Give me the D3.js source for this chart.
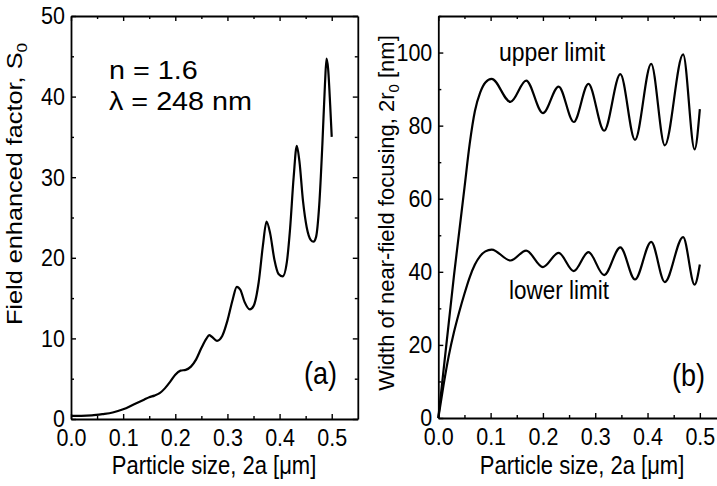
<!DOCTYPE html>
<html>
<head>
<meta charset="utf-8">
<script src="https://cdn.jsdelivr.net/npm/d3@7"></script>
<style>
  body { margin: 0; background: #fff; }
  text { font-family: "Liberation Sans", Arial, sans-serif; fill: #000; }
</style>
</head>
<body>
<div id="chart"></div>
<script>
const width = 717;
const height = 486;
const STRETCH = 1.15; // the original figure is a bit taller than wide, text included

// panel (a): field enhanced factor vs particle size
const sizeA = [0, 0.02, 0.04, 0.06, 0.08, 0.10, 0.12, 0.14, 0.15, 0.16, 0.17, 0.18, 0.19, 0.20,
  0.21, 0.22, 0.23, 0.24, 0.25, 0.26, 0.265, 0.27, 0.28, 0.29, 0.30, 0.31, 0.318, 0.325, 0.333,
  0.343, 0.35, 0.36, 0.368, 0.375, 0.382, 0.39, 0.398, 0.406, 0.414, 0.42, 0.427, 0.433, 0.438,
  0.445, 0.452, 0.46, 0.465, 0.47, 0.476, 0.482, 0.487, 0.49, 0.493, 0.497, 0.50];
const factorA = [0.4, 0.4, 0.45, 0.6, 0.8, 1.2, 1.8, 2.4, 2.7, 2.9, 3.2, 3.8, 4.6, 5.5,
  6.0, 6.1, 6.5, 7.4, 8.8, 10.0, 10.4, 10.2, 9.7, 10.3, 12.2, 14.8, 16.4, 16.0, 14.5,
  13.6, 14.0, 17.0, 21.5, 24.5, 23.0, 19.8, 18.0, 17.7, 19.5, 23.5, 30.0, 33.9, 32.0,
  27.0, 23.8, 22.2, 22.0, 22.6, 26.5, 34.0, 41.5, 44.7, 43.5, 39.0, 35.0];

// panel (b): width of near-field focusing, upper and lower limit
const sizeB = [0, 0.01, 0.02, 0.03, 0.04, 0.05, 0.06, 0.07, 0.08, 0.09, 0.102, 0.138, 0.168,
  0.200, 0.230, 0.259, 0.287, 0.317, 0.348, 0.376, 0.407, 0.433, 0.468, 0.490, 0.500];
const upperB = [0, 13, 26, 39, 51, 63, 75, 84, 89, 91.8, 92.8, 86.5, 92.3,
  83.4, 90.7, 81.0, 91.4, 78.6, 94.1, 76.1, 96.9, 74.6, 99.5, 73.5, 84.5];
const lowerB = [0, 9, 17, 23.5, 29, 34, 38.5, 42, 44.3, 45.6, 46.1, 43.1, 45.8,
  41.3, 45.2, 40.2, 45.4, 39.1, 46.7, 37.9, 48.2, 37.2, 49.5, 36.5, 42];

const xMajor = [0, 0.1, 0.2, 0.3, 0.4, 0.5];
const xMinor = [0.05, 0.15, 0.25, 0.35, 0.45];
const yMajorA = [0, 10, 20, 30, 40, 50];
const yMinorA = [5, 15, 25, 35, 45];
const yMajorB = [0, 20, 40, 60, 80, 100];
const yMinorB = [10, 30, 50, 70, 90, 110];

const svg = d3.select("#chart").append("svg")
    .attr("width", width)
    .attr("height", height);

// frame with inward ticks on all four sides, labels on left and bottom
function frame(g, x, y, yMajor, yMinor) {
  const sides = [
    [d3.axisBottom(x), "translate(0," + y.range()[0] + ")", xMajor, xMinor, true, true],
    [d3.axisTop(x), "translate(0," + y.range()[1] + ")", xMajor, xMinor, false, true],
    [d3.axisLeft(y), "translate(" + x.range()[0] + ",0)", yMajor, yMinor, true, false],
    [d3.axisRight(y), "translate(" + x.range()[1] + ",0)", yMajor, yMinor, false, false]
  ];
  sides.forEach(([axis, tr, major, minor, labels, horiz]) => {
    const fmt = labels ? (horiz ? d3.format(".1f") : d3.format("d")) : () => "";
    const a = g.append("g").attr("transform", tr)
      .call(axis.tickValues(major).tickFormat(fmt).tickSizeInner(-5).tickSizeOuter(0)
        .tickPadding(horiz ? 8 : 6));
    a.select(".domain").attr("stroke-width", 1.8);
    a.selectAll(".tick line").attr("stroke-width", 1.4);
    a.selectAll("text")
      .attr("font-size", 21.5)
      .attr("font-family", "Liberation Sans, Arial, sans-serif")
      .attr("transform", "scale(1," + STRETCH + ")");
    const m = g.append("g").attr("transform", tr)
      .call(axis.tickValues(minor).tickFormat("").tickSizeInner(-3).tickSizeOuter(0));
    m.select(".domain").remove();
    m.selectAll(".tick line").attr("stroke-width", 1.4);
  });
}

function label(g, txt, x, y, size, anchor, sx, sy) {
  return g.append("text")
    .attr("transform", "translate(" + x + "," + y + ") scale(" + (sx || 1) + "," + (sy || STRETCH) + ")")
    .attr("font-size", size)
    .attr("text-anchor", anchor || "start")
    .text(txt);
}

// parts: [text, shift] where shift 1 = drop to subscript, -1 = back to baseline
function yTitle(g, x, y, size, along, parts) {
  const t = g.append("text")
    .attr("transform", "translate(" + x + "," + y + ") rotate(-90) scale(" + along + ",1)")
    .attr("font-size", size)
    .attr("text-anchor", "middle");
  parts.forEach(([s, shift]) => {
    t.append("tspan")
      .attr("font-size", shift === 1 ? size * 0.68 : size)
      .attr("dy", shift * 5)
      .text(s);
  });
}

// ---- panel (a)
const xA = d3.scaleLinear().domain([0, 0.55]).range([71, 357.8]);
const yA = d3.scaleLinear().domain([0, 50]).range([419, 16]);
const gA = svg.append("g");

gA.append("path")
    .datum(sizeA.map((s, i) => [s, factorA[i]]))
    .attr("fill", "none")
    .attr("stroke", "#000")
    .attr("stroke-width", 2.2)
    .attr("d", d3.line().x(d => xA(d[0])).y(d => yA(d[1])).curve(d3.curveMonotoneX));

frame(gA, xA, yA, yMajorA, yMinorA);

label(gA, "n = 1.6", 109, 79, 25, "start", 1.15, 1);
label(gA, "\u03bb = 248 nm", 109, 110, 25, "start", 1.15, 1);
label(gA, "(a)", 337, 384, 27, "end");
label(gA, "Particle size, 2a [\u03bcm]", 214, 474, 22, "middle");
yTitle(gA, 22, 184, 22, STRETCH, [["Field enhanced factor, S", 0], ["0", 1]]);

// ---- panel (b)
const xB = d3.scaleLinear().domain([0, 0.55]).range([438.3, 726]);
const yB = d3.scaleLinear().domain([0, 110]).range([418, 16]);
const gB = svg.append("g");

const lineB = d3.line().x(d => xB(d[0])).y(d => yB(d[1])).curve(d3.curveMonotoneX);
[upperB, lowerB].forEach(vals => {
  gB.append("path")
      .datum(sizeB.map((s, i) => [s, vals[i]]))
      .attr("fill", "none")
      .attr("stroke", "#000")
      .attr("stroke-width", 2.2)
      .attr("d", lineB);
});

frame(gB, xB, yB, yMajorB, yMinorB);

label(gB, "upper limit", 499, 61, 23);
label(gB, "lower limit", 509, 299, 22.5);
label(gB, "(b)", 705, 386, 27, "end");
label(gB, "Particle size, 2a [\u03bcm]", 582, 474, 22, "middle");
yTitle(gB, 394, 213, 22, 1.0, [["Width of near-field focusing, 2r", 0], ["0", 1], [" [nm]", -1]]);
</script>
</body>
</html>
